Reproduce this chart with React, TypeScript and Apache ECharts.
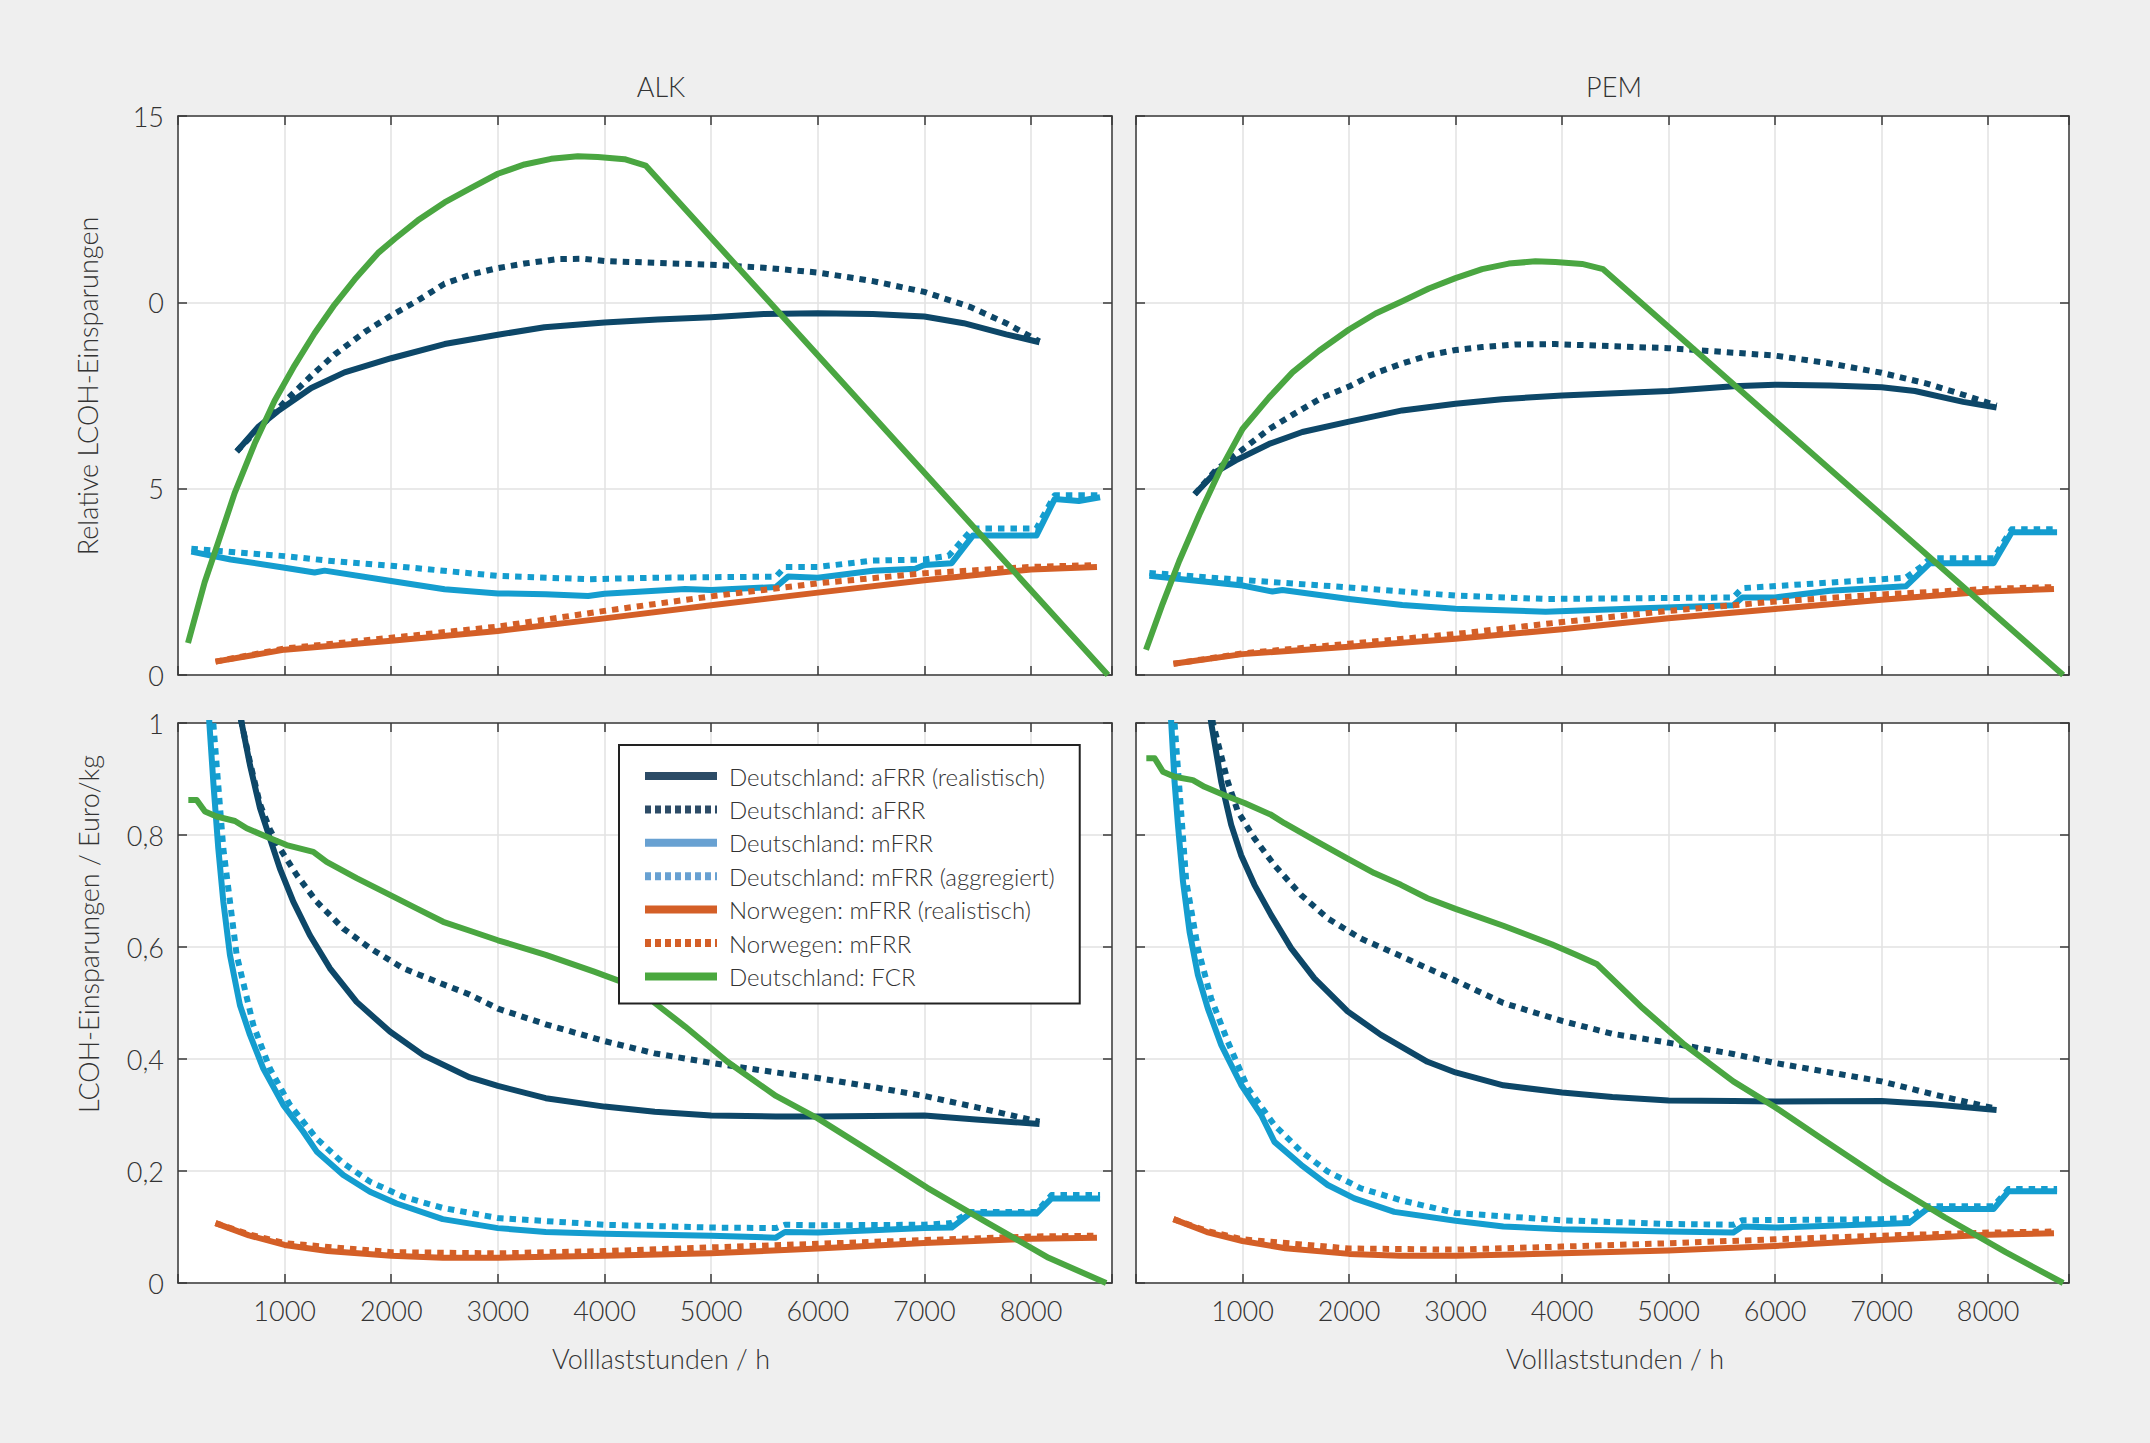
import { useEffect, useRef } from 'react';
import * as echarts from 'echarts';

// Relative LCOH-Einsparungen (obere Reihe), [Volllaststunden, Wert]
const alkRelAfrrReal = [[551, 6.0], [750, 6.65], [937, 7.08], [1250, 7.7], [1562, 8.12], [2000, 8.5], [2500, 8.88], [3000, 9.13], [3437, 9.33], [4000, 9.46], [4500, 9.54], [5000, 9.6], [5494, 9.69], [6000, 9.71], [6517, 9.69], [7000, 9.62], [7369, 9.44], [7767, 9.14], [8080, 8.93]];
const alkRelAfrr = [[551, 6.0], [750, 6.6], [892, 7.0], [1031, 7.42], [1250, 8.03], [1469, 8.6], [1750, 9.2], [2000, 9.65], [2250, 10.05], [2500, 10.5], [2750, 10.75], [3000, 10.92], [3250, 11.04], [3562, 11.16], [3800, 11.17], [4000, 11.11], [4472, 11.06], [5000, 11.01], [5494, 10.93], [6000, 10.8], [6517, 10.57], [7000, 10.28], [7426, 9.88], [7767, 9.44], [8080, 8.95]];
const alkRelMfrr = [[125, 3.31], [494, 3.1], [1000, 2.88], [1281, 2.75], [1375, 2.8], [2000, 2.52], [2500, 2.3], [3000, 2.19], [3449, 2.17], [3847, 2.12], [4000, 2.18], [4756, 2.31], [5000, 2.28], [5608, 2.36], [5722, 2.64], [6000, 2.61], [6517, 2.8], [6915, 2.85], [7000, 2.95], [7256, 3.0], [7455, 3.74], [8051, 3.74], [8222, 4.72], [8449, 4.67], [8648, 4.77]];
const alkRelMfrrAgg = [[125, 3.39], [1000, 3.19], [1403, 3.07], [2000, 2.93], [3000, 2.66], [3847, 2.57], [4472, 2.61], [5608, 2.64], [5693, 2.9], [6000, 2.9], [6517, 3.07], [7000, 3.1], [7228, 3.2], [7455, 3.93], [8051, 3.93], [8222, 4.82], [8648, 4.82]];
const alkRelNoReal = [[352, 0.36], [1000, 0.68], [2000, 0.92], [3000, 1.18], [4000, 1.52], [5000, 1.87], [6000, 2.21], [7000, 2.54], [8000, 2.83], [8619, 2.9]];
const alkRelNo = [[352, 0.36], [1000, 0.71], [2000, 1.0], [3000, 1.3], [4000, 1.72], [5000, 2.11], [6000, 2.46], [7000, 2.73], [8000, 2.9], [8619, 2.95]];
const alkRelFcr = [[94, 0.86], [250, 2.49], [375, 3.54], [531, 4.88], [719, 6.21], [906, 7.36], [1094, 8.31], [1281, 9.17], [1469, 9.94], [1656, 10.61], [1875, 11.32], [2031, 11.7], [2250, 12.2], [2500, 12.68], [2750, 13.07], [3000, 13.45], [3250, 13.7], [3500, 13.85], [3750, 13.92], [3937, 13.9], [4188, 13.84], [4386, 13.67], [8722, 0]];

const pemRelAfrrReal = [[551, 4.85], [750, 5.45], [937, 5.76], [1250, 6.2], [1562, 6.52], [2000, 6.8], [2500, 7.1], [3000, 7.28], [3437, 7.4], [4000, 7.5], [5000, 7.62], [5608, 7.75], [6000, 7.79], [6517, 7.77], [7000, 7.72], [7313, 7.62], [7767, 7.33], [8080, 7.18]];
const pemRelAfrr = [[551, 4.85], [750, 5.5], [1031, 6.12], [1250, 6.6], [1469, 6.98], [1750, 7.45], [2000, 7.74], [2250, 8.1], [2500, 8.36], [2750, 8.58], [3000, 8.72], [3250, 8.8], [3562, 8.87], [3937, 8.88], [4500, 8.82], [5000, 8.77], [5608, 8.65], [6000, 8.57], [6517, 8.36], [7000, 8.11], [7426, 7.82], [7767, 7.52], [8080, 7.23]];
const pemRelMfrr = [[125, 2.66], [500, 2.55], [1000, 2.4], [1281, 2.24], [1375, 2.28], [2000, 2.04], [2500, 1.88], [3000, 1.78], [3847, 1.7], [4756, 1.79], [5608, 1.87], [5693, 2.08], [6000, 2.08], [6517, 2.26], [7228, 2.38], [7455, 3.0], [8051, 3.0], [8222, 3.83], [8648, 3.83]];
const pemRelMfrrAgg = [[125, 2.74], [1000, 2.55], [2000, 2.35], [3000, 2.13], [3847, 2.04], [5608, 2.08], [5693, 2.33], [6517, 2.48], [7228, 2.61], [7370, 2.9], [7455, 3.13], [8051, 3.13], [8222, 3.91], [8648, 3.91]];
const pemRelNoReal = [[352, 0.3], [1000, 0.56], [2000, 0.76], [3000, 0.97], [4000, 1.23], [5000, 1.52], [6000, 1.77], [7000, 2.02], [8000, 2.24], [8619, 2.31]];
const pemRelNo = [[352, 0.3], [1000, 0.58], [2000, 0.84], [3000, 1.1], [4000, 1.42], [5000, 1.72], [6000, 1.97], [7000, 2.16], [8000, 2.31], [8619, 2.36]];
const pemRelFcr = [[94, 0.68], [250, 1.91], [406, 3.06], [594, 4.3], [781, 5.45], [1000, 6.6], [1250, 7.45], [1469, 8.12], [1719, 8.7], [2000, 9.27], [2250, 9.7], [2500, 10.03], [2750, 10.37], [3000, 10.65], [3250, 10.89], [3500, 11.04], [3750, 11.1], [3937, 11.08], [4188, 11.03], [4386, 10.89], [8705, 0]];

// LCOH-Einsparungen in Euro/kg (untere Reihe)
const alkAbsAfrrReal = [[551, 1.05], [597, 1.0], [675, 0.925], [769, 0.848], [862, 0.794], [956, 0.74], [1081, 0.681], [1237, 0.621], [1425, 0.562], [1675, 0.502], [1987, 0.449], [2300, 0.407], [2737, 0.367], [3000, 0.352], [3449, 0.33], [4000, 0.315], [4472, 0.306], [5000, 0.299], [5608, 0.2975], [6000, 0.2975], [7000, 0.299], [7483, 0.292], [8080, 0.284]];
const alkAbsAfrr = [[551, 1.05], [597, 1.0], [675, 0.93], [769, 0.855], [862, 0.81], [956, 0.776], [1112, 0.729], [1300, 0.681], [1550, 0.633], [1800, 0.598], [2112, 0.562], [2425, 0.538], [2737, 0.515], [3000, 0.49], [3449, 0.462], [4000, 0.432], [4472, 0.41], [5000, 0.393], [5608, 0.376], [6000, 0.366], [6517, 0.35], [7000, 0.334], [7483, 0.314], [8080, 0.288]];
const alkAbsMfrr = [[255, 1.15], [294, 1.0], [331, 0.895], [378, 0.776], [425, 0.681], [487, 0.586], [581, 0.496], [675, 0.443], [800, 0.383], [987, 0.318], [1175, 0.27], [1300, 0.235], [1550, 0.193], [1800, 0.163], [2050, 0.142], [2483, 0.114], [3000, 0.098], [3449, 0.091], [4000, 0.088], [5000, 0.0845], [5608, 0.081], [5693, 0.091], [6000, 0.09], [6517, 0.094], [7000, 0.098], [7256, 0.099], [7426, 0.124], [8051, 0.124], [8193, 0.151], [8648, 0.151]];
const alkAbsMfrrAgg = [[270, 1.2], [331, 1.0], [425, 0.776], [550, 0.586], [706, 0.461], [862, 0.383], [1050, 0.318], [1300, 0.258], [1550, 0.214], [1800, 0.181], [2112, 0.154], [2483, 0.134], [3000, 0.116], [4000, 0.104], [5000, 0.099], [5608, 0.098], [5693, 0.104], [6000, 0.103], [7000, 0.104], [7256, 0.107], [7426, 0.127], [8051, 0.127], [8193, 0.157], [8648, 0.157]];
const alkAbsNoReal = [[352, 0.107], [665, 0.085], [1000, 0.068], [1403, 0.057], [2000, 0.0485], [2483, 0.045], [3000, 0.045], [4000, 0.0485], [5000, 0.053], [6000, 0.0616], [7000, 0.0714], [8000, 0.079], [8619, 0.081]];
const alkAbsNo = [[352, 0.107], [665, 0.087], [1000, 0.071], [2000, 0.055], [3000, 0.053], [4000, 0.057], [5000, 0.0636], [6000, 0.07], [7000, 0.0767], [8000, 0.083], [8619, 0.0845]];
const alkAbsFcr = [[97, 0.8625], [175, 0.8625], [253, 0.842], [362, 0.833], [534, 0.825], [644, 0.812], [831, 0.797], [1019, 0.782], [1269, 0.77], [1394, 0.752], [1675, 0.723], [1987, 0.693], [2237, 0.669], [2487, 0.645], [2737, 0.629], [3000, 0.612], [3449, 0.586], [3903, 0.556], [4131, 0.54], [4330, 0.528], [4472, 0.5], [4756, 0.458], [5153, 0.395], [5608, 0.334], [6000, 0.294], [6460, 0.239], [7028, 0.17], [7597, 0.107], [8165, 0.045], [8705, 0]];

const pemAbsAfrrReal = [[551, 1.25], [706, 1.0], [800, 0.895], [894, 0.818], [987, 0.764], [1112, 0.711], [1269, 0.657], [1456, 0.598], [1675, 0.544], [1987, 0.485], [2300, 0.443], [2737, 0.395], [3000, 0.376], [3449, 0.353], [4000, 0.34], [4472, 0.332], [5000, 0.326], [5608, 0.325], [6000, 0.324], [7000, 0.325], [7483, 0.319], [8080, 0.309]];
const pemAbsAfrr = [[551, 1.25], [722, 1.0], [862, 0.895], [956, 0.842], [1112, 0.794], [1300, 0.746], [1550, 0.693], [1800, 0.651], [2112, 0.615], [2425, 0.589], [2737, 0.562], [3000, 0.54], [3449, 0.5], [4000, 0.468], [4472, 0.445], [5000, 0.429], [5608, 0.409], [6000, 0.393], [6517, 0.376], [7000, 0.36], [7483, 0.337], [8080, 0.311]];
const pemAbsMfrr = [[270, 1.2], [331, 1.0], [362, 0.895], [394, 0.818], [441, 0.717], [503, 0.627], [581, 0.55], [675, 0.49], [800, 0.425], [987, 0.354], [1175, 0.3], [1300, 0.252], [1550, 0.211], [1800, 0.175], [2050, 0.151], [2425, 0.127], [3000, 0.111], [3449, 0.101], [4000, 0.096], [5000, 0.092], [5608, 0.09], [5693, 0.101], [6000, 0.099], [7000, 0.1055], [7256, 0.107], [7426, 0.132], [8051, 0.132], [8193, 0.164], [8648, 0.164]];
const pemAbsMfrrAgg = [[300, 1.2], [362, 1.0], [472, 0.717], [581, 0.598], [706, 0.508], [862, 0.431], [1050, 0.348], [1300, 0.282], [1550, 0.235], [1800, 0.199], [2112, 0.169], [2483, 0.148], [3000, 0.125], [4000, 0.112], [5000, 0.1055], [5608, 0.104], [5693, 0.112], [7000, 0.114], [7256, 0.116], [7426, 0.137], [8051, 0.137], [8193, 0.168], [8648, 0.168]];
const pemAbsNoReal = [[352, 0.114], [665, 0.091], [1000, 0.075], [1403, 0.062], [2000, 0.052], [2483, 0.0485], [3000, 0.0485], [4000, 0.053], [5000, 0.058], [6000, 0.066], [7000, 0.077], [8000, 0.086], [8619, 0.089]];
const pemAbsNo = [[352, 0.114], [665, 0.093], [1000, 0.078], [2000, 0.0616], [3000, 0.0596], [4000, 0.065], [5000, 0.071], [6000, 0.078], [7000, 0.0845], [8000, 0.09], [8619, 0.092]];
const pemAbsFcr = [[97, 0.937], [175, 0.937], [253, 0.913], [362, 0.904], [534, 0.898], [644, 0.886], [831, 0.871], [1019, 0.857], [1269, 0.836], [1394, 0.821], [1675, 0.791], [1987, 0.758], [2237, 0.732], [2487, 0.711], [2737, 0.687], [3000, 0.668], [3449, 0.638], [3903, 0.605], [4131, 0.586], [4330, 0.569], [4756, 0.491], [5153, 0.425], [5608, 0.36], [6000, 0.314], [6460, 0.255], [7028, 0.183], [7597, 0.117], [8165, 0.055], [8705, 0]];

const seriesNames = [
  'Deutschland: aFRR (realistisch)',
  'Deutschland: aFRR',
  'Deutschland: mFRR',
  'Deutschland: mFRR (aggregiert)',
  'Norwegen: mFRR (realistisch)',
  'Norwegen: mFRR',
  'Deutschland: FCR',
];
const lineColors = ['#0d4768', '#0d4768', '#149dcf', '#149dcf', '#d45f27', '#d45f27', '#4aa641'];
const legendColors = ['#2c4b66', '#2c4b66', '#68a1d2', '#68a1d2', '#d45f27', '#d45f27', '#4aa83e'];
const dotted = [false, true, false, true, false, true, false];

const panelTitles = ['ALK', 'PEM'];
const yTicksTop = [0, 5, 10, 15];
const yLabelsTop = ['0', '5', '0', '15'];

const panelData = [
  [alkRelAfrrReal, alkRelAfrr, alkRelMfrr, alkRelMfrrAgg, alkRelNoReal, alkRelNo, alkRelFcr],
  [pemRelAfrrReal, pemRelAfrr, pemRelMfrr, pemRelMfrrAgg, pemRelNoReal, pemRelNo, pemRelFcr],
  [alkAbsAfrrReal, alkAbsAfrr, alkAbsMfrr, alkAbsMfrrAgg, alkAbsNoReal, alkAbsNo, alkAbsFcr],
  [pemAbsAfrrReal, pemAbsAfrr, pemAbsMfrr, pemAbsMfrrAgg, pemAbsNoReal, pemAbsNo, pemAbsFcr],
];

const FONT = 'Lato, "Open Sans", sans-serif';
const TXT = '#333333';
const AXIS = '#3a3a3a';
const GRIDLINE = '#e2e2e2';

const grids = [
  { left: 178, top: 116, width: 934, height: 559 },
  { left: 1136, top: 116, width: 933, height: 559 },
  { left: 178, top: 723, width: 934, height: 560 },
  { left: 1136, top: 723, width: 933, height: 560 },
];

function buildOption(): echarts.EChartsOption {
  const xAxis: any[] = [];
  const yAxis: any[] = [];
  const series: any[] = [];

  grids.forEach((_, p) => {
    const bottomRow = p >= 2;
    const leftCol = p % 2 === 0;
    const tickStyle = { show: true, inside: true, length: 9, lineStyle: { color: AXIS, width: 1.5 } };
    const lineStyle = { show: true, onZero: false, lineStyle: { color: AXIS, width: 1.5 } };

    xAxis.push({
      type: 'value', gridIndex: p, position: 'bottom', min: 0, max: 8760, interval: 1000,
      axisLine: lineStyle, axisTick: tickStyle,
      axisLabel: {
        show: bottomRow, margin: 14, color: TXT, fontSize: 27, fontFamily: FONT, fontWeight: 300,
        formatter: (v: number) => (v === 0 || v > 8000 ? '' : String(v)),
      },
      splitLine: { show: true, lineStyle: { color: GRIDLINE, width: 1.5 } },
    });
    xAxis.push({
      type: 'value', gridIndex: p, position: 'top', min: 0, max: 8760, interval: 1000,
      axisLine: lineStyle, axisTick: tickStyle, axisLabel: { show: false }, splitLine: { show: false },
    });

    const yBase = bottomRow
      ? { min: 0, max: 1, interval: 0.2 }
      : { min: 0, max: 15, interval: 5 };
    yAxis.push({
      type: 'value', gridIndex: p, position: 'left', ...yBase,
      axisLine: lineStyle, axisTick: tickStyle,
      axisLabel: {
        show: leftCol, margin: 14, color: TXT, fontSize: 27, fontFamily: FONT, fontWeight: 300,
        formatter: (v: number) => {
          if (!bottomRow) {
            const i = yTicksTop.indexOf(Math.round(v));
            return i >= 0 ? yLabelsTop[i] : '';
          }
          if (Math.abs(v) < 1e-9) return '0';
          if (Math.abs(v - 1) < 1e-9) return '1';
          return v.toFixed(1).replace('.', ',');
        },
      },
      splitLine: { show: true, lineStyle: { color: GRIDLINE, width: 1.5 } },
    });
    yAxis.push({
      type: 'value', gridIndex: p, position: 'right', ...yBase,
      axisLine: lineStyle, axisTick: tickStyle, axisLabel: { show: false }, splitLine: { show: false },
    });

    panelData[p].forEach((data, i) => {
      series.push({
        type: 'line',
        name: seriesNames[i],
        xAxisIndex: p * 2,
        yAxisIndex: p * 2,
        data,
        symbol: 'none',
        silent: true,
        clip: true,
        color: lineColors[i],
        lineStyle: {
          color: lineColors[i],
          width: 6,
          type: dotted[i] ? [6.5, 6] : 'solid',
          cap: 'butt',
          join: 'round',
        },
        z: 2 + i * 0.1,
      });
    });
  });

  const textStyle = (size: number) => ({ fill: TXT, font: `300 ${size}px ${FONT}` });
  const centered = { align: 'center', verticalAlign: 'middle', textAlign: 'center', textVerticalAlign: 'middle' };

  return {
    animation: false,
    backgroundColor: '#efefef',
    grid: grids.map((g) => ({ ...g, show: true, backgroundColor: '#ffffff', borderWidth: 0 })),
    xAxis,
    yAxis,
    legend: {
      orient: 'vertical',
      left: 619,
      top: 745,
      selectedMode: false,
      backgroundColor: '#ffffff',
      borderColor: '#222222',
      borderWidth: 2,
      borderRadius: 0,
      padding: [19, 25, 15, 22],
      itemGap: 9.4,
      itemWidth: 72,
      itemHeight: 12,
      textStyle: { fontSize: 24, fontFamily: FONT, fontWeight: 300, color: TXT, lineHeight: 24, padding: [0, 0, 0, 7] },
      data: seriesNames.map((name, i) => ({
        name,
        itemStyle: { color: legendColors[i], opacity: 0, borderWidth: 0 },
        lineStyle: { color: legendColors[i], width: 8, type: dotted[i] ? [6, 4] : 'solid', cap: 'butt', opacity: 1 },
      })),
    },
    graphic: [
      ...panelTitles.map((t, i) => ({
        type: 'text', x: i === 0 ? 661 : 1614, y: 86,
        style: { text: t, ...textStyle(27), ...centered },
      })),
      ...panelTitles.map((_, i) => ({
        type: 'text', x: i === 0 ? 661 : 1615, y: 1358,
        style: { text: 'Volllaststunden / h', ...textStyle(27), ...centered },
      })),
      {
        type: 'text', x: 87, y: 386, rotation: Math.PI / 2,
        style: { text: 'Relative LCOH-Einsparungen', ...textStyle(27), ...centered },
      },
      {
        type: 'text', x: 88, y: 934, rotation: Math.PI / 2,
        style: { text: 'LCOH-Einsparungen / Euro/kg', ...textStyle(27), ...centered },
      },
    ] as any,
    series,
  };
}

export default function App() {
  const chartRef = useRef<HTMLDivElement>(null);

  useEffect(() => {
    if (!chartRef.current) return;
    const chart = echarts.init(chartRef.current, null, { renderer: 'svg' });
    chart.setOption(buildOption());
    return () => {
      chart.dispose();
    };
  }, []);

  return (
    <div
      ref={chartRef}
      style={{ position: 'absolute', left: 0, top: 0, width: 2150, height: 1443, background: '#efefef' }}
    />
  );
}
